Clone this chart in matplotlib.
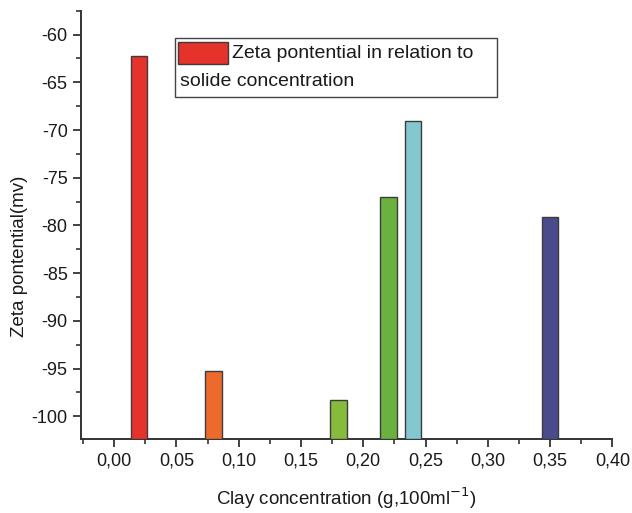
import matplotlib
matplotlib.use("Agg")
import matplotlib.pyplot as plt
from matplotlib.patches import Rectangle
from matplotlib.ticker import MultipleLocator, FuncFormatter

plt.rcParams["font.family"] = ["Liberation Sans", "DejaVu Sans"]
plt.rcParams["axes.unicode_minus"] = False

# clay concentration (g/100ml) and zeta potential (mV)
concentration = [0.02, 0.08, 0.18, 0.22, 0.24, 0.35]
zeta = [-62.2, -95.3, -98.3, -77.0, -69.1, -79.1]
bar_colors = ["#E5332C", "#EC6A2C", "#86BC3B", "#6BB13F", "#84C7CF", "#4B4A8B"]
legend_label = ["Zeta pontential in relation to", "solide concentration"]

y_base = -102.4

fig = plt.figure(figsize=(6.32, 5.13), dpi=100)
ax = fig.add_axes([0.128, 0.144, 0.841, 0.835])

ax.bar(concentration, [z - y_base for z in zeta], bottom=y_base, width=0.0134,
       color=bar_colors, edgecolor="#3c3c3c", linewidth=1.0, zorder=3)

ax.set_xlim(-0.0267, 0.40)
ax.set_ylim(y_base, -57.5)

ax.xaxis.set_major_locator(MultipleLocator(0.05))
ax.xaxis.set_minor_locator(MultipleLocator(0.025))
ax.yaxis.set_major_locator(MultipleLocator(5))
ax.yaxis.set_minor_locator(MultipleLocator(2.5))
ax.xaxis.set_major_formatter(FuncFormatter(lambda v, p: f"{v:.2f}".replace(".", ",")))
ax.yaxis.set_major_formatter(FuncFormatter(lambda v, p: f"{v:.0f}"))

for side in ["top", "right"]:
    ax.spines[side].set_visible(False)
for side in ["left", "bottom"]:
    ax.spines[side].set_linewidth(1.4)
    ax.spines[side].set_color("#333333")

ax.tick_params(which="major", direction="out", length=6, width=1.3, color="#333333",
               labelsize=13, labelcolor="#1a1a1a", pad=3.5)
ax.tick_params(which="minor", direction="out", length=3.5, width=1.2, color="#333333")

ax.set_xlabel("Clay concentration (g,100ml$^{-1}$)", fontsize=13.5, color="#1a1a1a", labelpad=12)
ax.set_ylabel("Zeta pontential(mv)", fontsize=13.5, color="#1a1a1a")
ax.yaxis.set_label_coords(20 / 632, 0.5, transform=fig.transFigure)
ax.yaxis.label.set_va("center")

# legend drawn by hand so the second line wraps under the swatch
box = Rectangle((175 / 632, 1 - 97 / 513), (497 - 175) / 632, (97 - 38) / 513,
                transform=fig.transFigure, facecolor="white", edgecolor="#444444",
                linewidth=1.0, zorder=5)
fig.patches.append(box)
swatch = Rectangle((178 / 632, 1 - 64 / 513), 50 / 632, 22 / 513,
                   transform=fig.transFigure, facecolor=bar_colors[0], edgecolor="#3c3c3c",
                   linewidth=1.0, zorder=6)
fig.patches.append(swatch)
fig.text(232 / 632, 1 - 54 / 513, legend_label[0], fontsize=14, va="center", ha="left",
         color="#1a1a1a", zorder=7)
fig.text(180 / 632, 1 - 82 / 513, legend_label[1], fontsize=14, va="center", ha="left",
         color="#1a1a1a", zorder=7)

fig.savefig("out.png", dpi=100, facecolor="white")
